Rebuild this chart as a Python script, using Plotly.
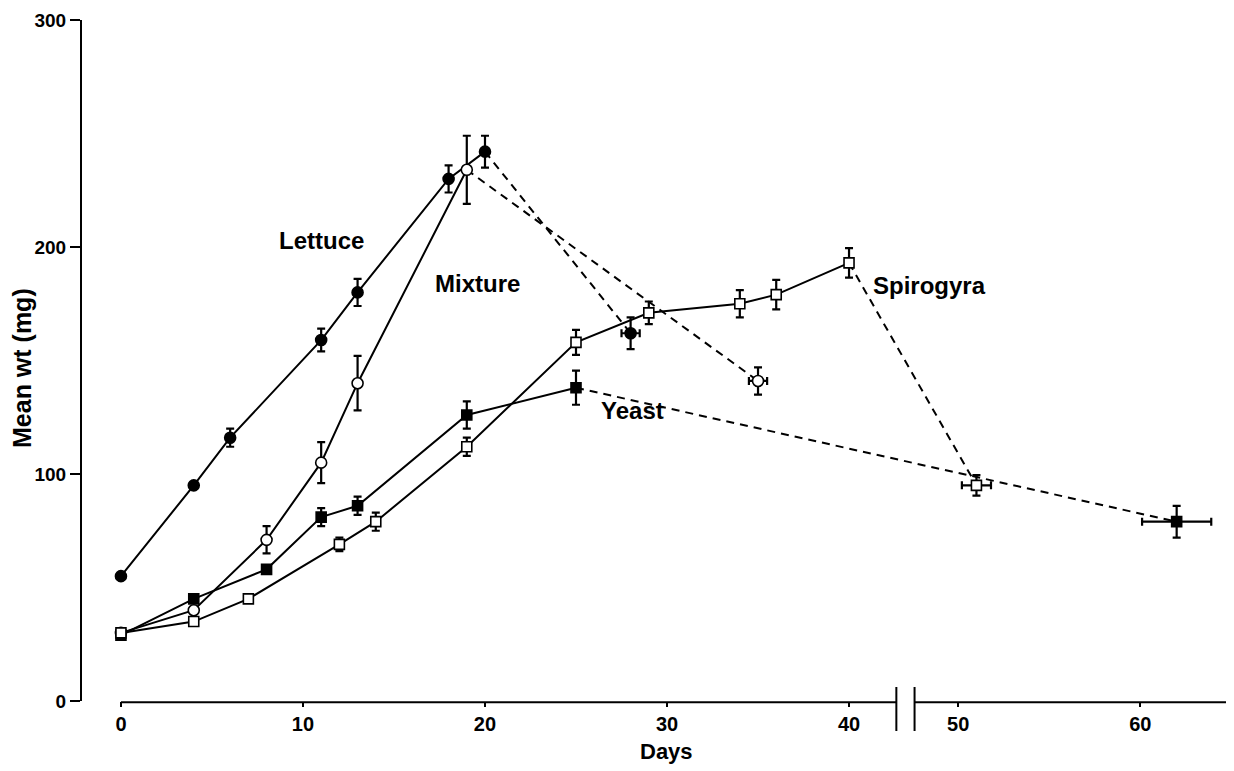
import plotly.graph_objects as go

# ---------------- data ----------------
LETTUCE_DAYS = [0, 4, 6, 11, 13, 18, 20, 28]
LETTUCE_WT = [55, 95, 116, 159, 180, 230, 242, 162]
LETTUCE_YERR = [None, None, 4, 5, 6, 6, 7, 7]
LETTUCE_XERR = [None, None, None, None, None, None, None, 0.5]
LETTUCE_SOLID_N = 7

MIXTURE_DAYS = [0, 4, 8, 11, 13, 19, 35]
MIXTURE_WT = [30, 40, 71, 105, 140, 234, 141]
MIXTURE_YERR = [None, None, 6, 9, 12, 15, 6]
MIXTURE_XERR = [None, None, None, None, None, None, 0.5]
MIXTURE_SOLID_N = 6

YEAST_DAYS = [0, 4, 8, 11, 13, 19, 25, 62]
YEAST_WT = [29, 45, 58, 81, 86, 126, 138, 79]
YEAST_YERR = [None, None, None, 4, 4, 6, 7.5, 7]
YEAST_XERR = [None, None, None, None, None, None, None, 1.9]
YEAST_SOLID_N = 7

SPIRO_DAYS = [0, 4, 7, 12, 14, 19, 25, 29, 34, 36, 40, 51]
SPIRO_WT = [30, 35, 45, 69, 79, 112, 158, 171, 175, 179, 193, 95]
SPIRO_YERR = [None, None, None, 3, 4, 4, 5.5, 5, 6, 6.5, 6.5, 4.5]
SPIRO_XERR = [None] * 11 + [0.8]
SPIRO_SOLID_N = 11

X_TICKS = [0, 10, 20, 30, 40, 50, 60]
Y_TICKS = [0, 100, 200, 300]

# axis break: days between BREAK_FROM and BREAK_FROM + BREAK_GAP are cut out
BREAK_FROM = 43
BREAK_GAP = 4


def xpos(d):
    return d if d <= BREAK_FROM else d - BREAK_GAP


FONT = "Liberation Sans, Arial, Helvetica, sans-serif"
BLACK = "#000000"

# figure size / plot area (page body has an 8px margin)
FIG_W, FIG_H = 1226, 763
M_L, M_R, M_T, M_B = 74, 0, 12, 70
PLOT_W = FIG_W - M_L - M_R
PLOT_H = FIG_H - M_T - M_B

fig = go.Figure()


def add_series(days, wt, yerr, xerr, solid_n, symbol, filled, msize):
    xs = [xpos(d) for d in days]
    fig.add_trace(go.Scatter(
        x=xs[:solid_n], y=wt[:solid_n], mode="lines",
        line=dict(color=BLACK, width=2), hoverinfo="skip", showlegend=False))
    fig.add_trace(go.Scatter(
        x=xs[solid_n - 1:], y=wt[solid_n - 1:], mode="lines",
        line=dict(color=BLACK, width=2, dash="8px,6px"), hoverinfo="skip",
        showlegend=False))
    fig.add_trace(go.Scatter(
        x=xs, y=wt, mode="markers",
        marker=dict(symbol=symbol, size=msize,
                    color=BLACK if filled else "white",
                    line=dict(color=BLACK, width=1.6)),
        error_y=dict(type="data", array=yerr, visible=True, color=BLACK,
                     thickness=2.2, width=4),
        error_x=dict(type="data", array=xerr, visible=True, color=BLACK,
                     thickness=2.2, width=4),
        showlegend=False))


add_series(LETTUCE_DAYS, LETTUCE_WT, LETTUCE_YERR, LETTUCE_XERR, LETTUCE_SOLID_N, "circle", True, 11)
add_series(MIXTURE_DAYS, MIXTURE_WT, MIXTURE_YERR, MIXTURE_XERR, MIXTURE_SOLID_N, "circle", False, 11)
add_series(YEAST_DAYS, YEAST_WT, YEAST_YERR, YEAST_XERR, YEAST_SOLID_N, "square", True, 10)
add_series(SPIRO_DAYS, SPIRO_WT, SPIRO_YERR, SPIRO_XERR, SPIRO_SOLID_N, "square", False, 10)

X_MIN, X_MAX = -2.14, 61.15
BREAK_MARKS = [42.6, 43.6]

# x-axis line (broken)
fig.add_shape(type="line", xref="x", yref="paper", x0=0, x1=BREAK_MARKS[0], y0=-0.002, y1=-0.002,
              line=dict(color=BLACK, width=2))
fig.add_shape(type="line", xref="x", yref="paper", x0=BREAK_MARKS[1], x1=X_MAX, y0=-0.002, y1=-0.002,
              line=dict(color=BLACK, width=2))
for bx in BREAK_MARKS:
    fig.add_shape(type="line", xref="x", yref="paper", x0=bx, x1=bx, y0=14 / PLOT_H, y1=-30 / PLOT_H,
                  line=dict(color=BLACK, width=2))

LABELS = [("Lettuce", 11.0, 203), ("Mixture", 19.6, 184), ("Yeast", 28.1, 128), ("Spirogyra", 44.4, 183)]
for txt, lx, ly in LABELS:
    fig.add_annotation(x=lx, y=ly, xref="x", yref="y", text=txt, showarrow=False,
                       xanchor="center", yanchor="middle",
                       font=dict(family=FONT, size=24, color=BLACK, weight="bold"))

fig.add_annotation(xref="paper", yref="paper", x=(658 - M_L) / PLOT_W, y=-51 / PLOT_H,
                   text="Days", showarrow=False, xanchor="center", yanchor="middle",
                   font=dict(family=FONT, size=22, color=BLACK, weight="bold"))
fig.add_annotation(xref="paper", yref="paper", x=(14 - M_L) / PLOT_W, y=(693 - 360) / PLOT_H,
                   text="Mean wt (mg)", showarrow=False, textangle=-90,
                   xanchor="center", yanchor="middle",
                   font=dict(family=FONT, size=25, color=BLACK, weight="bold"))

fig.update_layout(
    width=FIG_W, height=FIG_H,
    margin=dict(l=M_L, r=M_R, t=M_T, b=M_B),
    paper_bgcolor="white", plot_bgcolor="white",
    xaxis=dict(range=[X_MIN, X_MAX], tickvals=[xpos(t) for t in X_TICKS],
               ticktext=[str(t) for t in X_TICKS], showgrid=False, zeroline=False,
               showline=False, ticks="outside", ticklen=5, tickwidth=2, tickcolor=BLACK,
               tickfont=dict(family=FONT, size=20, color=BLACK, weight="bold")),
    yaxis=dict(range=[0, 300], tickvals=Y_TICKS, showgrid=False, zeroline=False,
               showline=True, linecolor=BLACK, linewidth=2,
               ticks="outside", ticklen=10, tickwidth=2, tickcolor=BLACK,
               tickfont=dict(family=FONT, size=19, color=BLACK, weight="bold")),
)

fig.write_html("out.html")
